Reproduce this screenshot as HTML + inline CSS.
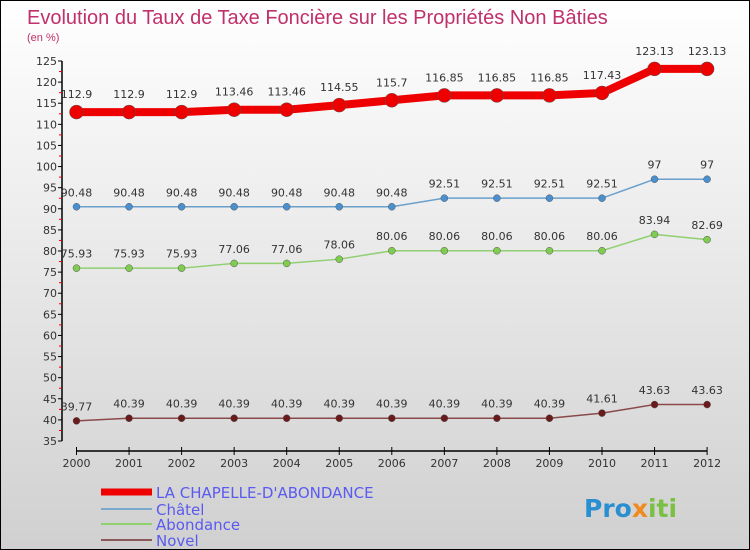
<!DOCTYPE html>
<html><head><meta charset="utf-8"><style>
body{margin:0;}
#c{width:750px;height:550px;position:relative;box-sizing:border-box;border:1px solid #000;background:linear-gradient(#ffffff,#d0d0d0);font-family:"DejaVu Sans","Liberation Sans",sans-serif;overflow:hidden;}
svg{position:absolute;left:0;top:0;}
</style></head><body>
<div id="c">
<svg id="s" width="750" height="550">
<text x="26" y="23" font-size="20" fill="#c0306a" font-family="Liberation Sans, sans-serif">Evolution du Taux de Taxe Foncière sur les Propriétés Non Bâties</text>
<text x="26" y="40" font-size="11" fill="#c0306a" font-family="Liberation Sans, sans-serif">(en %)</text>
<g><text x="583" y="516" font-size="25" font-weight="bold" fill="#2a8fd0">Pro<tspan fill="#f08a1c">x</tspan><tspan fill="#7ac143">iti</tspan></text></g>
</svg>
</div>
<script>
const years=["2000","2001","2002","2003","2004","2005","2006","2007","2008","2009","2010","2011","2012"];
const yTicks=[35,40,45,50,55,60,65,70,75,80,85,90,95,100,105,110,115,120,125];
const chapelle=[112.9,112.9,112.9,113.46,113.46,114.55,115.7,116.85,116.85,116.85,117.43,123.13,123.13];
const chapelleLbl=["112.9","112.9","112.9","113.46","113.46","114.55","115.7","116.85","116.85","116.85","117.43","123.13","123.13"];
const chatel=[90.48,90.48,90.48,90.48,90.48,90.48,90.48,92.51,92.51,92.51,92.51,97,97];
const abondance=[75.93,75.93,75.93,77.06,77.06,78.06,80.06,80.06,80.06,80.06,80.06,83.94,82.69];
const novel=[39.77,40.39,40.39,40.39,40.39,40.39,40.39,40.39,40.39,40.39,41.61,43.63,43.63];
const NS="http://www.w3.org/2000/svg";
const s=document.getElementById('s');
function X(i){return 75.5+i*52.55;}
function Y(v){return 440-(v-35)*(380/90);}
function el(t,a,p){const e=document.createElementNS(NS,t);for(const k in a)e.setAttribute(k,a[k]);(p||s).appendChild(e);return e;}
const ya=el('line',{x1:61,y1:Y(125),x2:61,y2:Y(35),stroke:'#000','stroke-width':1.5});


const xa=el('line',{x1:X(0),y1:450,x2:X(12),y2:450,stroke:'#000','stroke-width':1.5});


yTicks.forEach((v,i)=>{
 el('line',{x1:57,y1:Y(v),x2:61,y2:Y(v),stroke:'#000'});
 if(i<yTicks.length-1)el('line',{x1:58,y1:Y(v+2.5),x2:61,y2:Y(v+2.5),stroke:'#e00'});
 const t=el('text',{x:56,y:Y(v)+4,'font-size':11,'text-anchor':'end',fill:'#333'});t.textContent=v;
 
 
});
years.forEach((y,i)=>{
 el('line',{x1:X(i),y1:446,x2:X(i),y2:454,stroke:'#000'});
 const t=el('text',{x:X(i),y:466,'font-size':11,'text-anchor':'middle',fill:'#333'});t.textContent=y;
 
 
});
function series(name,vals,lbls,col,w,r,dot){
 const g=el('g',{});
 
 
 el('polyline',{points:vals.map((v,i)=>X(i)+','+Y(v)).join(' '),fill:'none',stroke:col,'stroke-width':w},g);
 vals.forEach((v,i)=>{
  const c=el('circle',{cx:X(i),cy:Y(v),r:r,fill:dot,stroke:'#555','stroke-width':0.5},g);
  
  
  const t=el('text',{x:X(i),y:Y(v)-(r+7),'font-size':11,'text-anchor':'middle',fill:'#333'},g);
  t.textContent=lbls?lbls[i]:String(v);
  
  
 });
}
series('novel',novel,null,'#8a4a4a',1.5,3.5,'#6a1a1a');
series('abondance',abondance,null,'#90d070',1.5,3.5,'#80cc50');
series('chatel',chatel,null,'#6aa0cc',1.5,3.5,'#4a90d0');
series('chapelle',chapelle,chapelleLbl,'#ee0000',8,7,'#ee0000');
const leg=[["LA CHAPELLE-D'ABONDANCE",'#ee0000',7,491],["Châtel",'#7aaacc',2,508],["Abondance",'#90d070',2,523],["Novel",'#8a5a5a',2,539]];
leg.forEach(l=>{
 const g=el('g',{});
 
 
 el('line',{x1:100,y1:l[3],x2:151,y2:l[3],stroke:l[1],'stroke-width':l[2]},g);
 const t=el('text',{x:155,y:l[3]+6,'font-size':15,fill:'#5a5af0'},g);t.textContent=l[0];
});
</script>
</body></html>
